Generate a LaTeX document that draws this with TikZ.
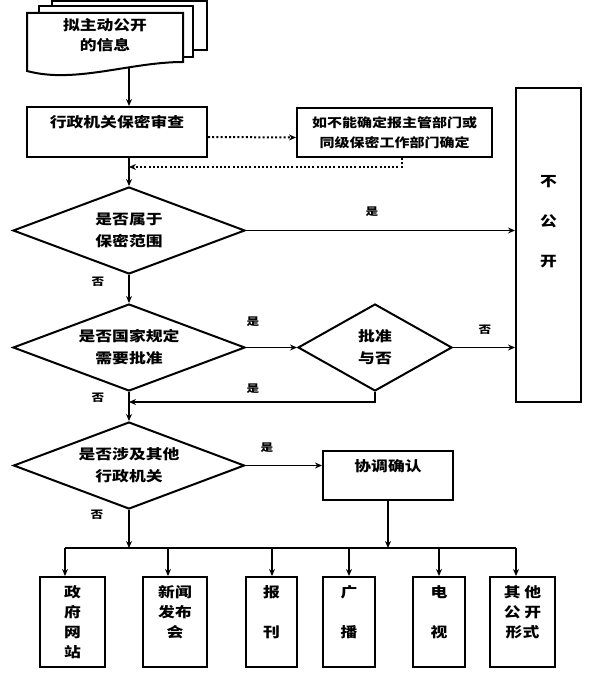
\documentclass[tikz,border=0pt]{standalone}
\usepackage{fontspec}
\newfontfamily\cjk{Noto Sans CJK SC}[FakeStretch=1.2]
\usetikzlibrary{shapes.geometric,arrows.meta}

\tikzset{
  procbox/.style={draw, line width=2pt, fill=white, inner sep=0pt, align=center,
    font=\cjk\bfseries\fontsize{14}{20}\selectfont},
  decision/.style={diamond, draw, line width=2pt, inner sep=0pt, align=center, aspect=2.67,
    font=\cjk\bfseries\fontsize{14}{22}\selectfont},
  toptext/.style={anchor=north, align=center, inner sep=0pt, yshift=-9pt,
    font=\cjk\bfseries\fontsize{14}{20}\selectfont},
  docpage/.style={draw, line width=2pt, fill=white},
  flow/.style={line width=1.5pt, -{Stealth[length=7pt,width=6pt]}},
  dotflow/.style={flow, line width=2pt, dash pattern=on 2pt off 2.2pt},
  answer/.style={font=\cjk\bfseries\fontsize{10.5}{10.5}\selectfont}
}

\begin{document}
\begin{tikzpicture}[x=1pt, y=-1pt]
  \useasboundingbox (0,0) rectangle (596,676);

  % stack of documents
  \path[docpage] (52,1.5) rectangle (207,50);
  \path[docpage] (39,6) rectangle (193,57);
  \path[docpage] (27,13) -- (183,13) -- (183,62) .. controls (130,62) and (75,84) .. (27,71) -- cycle;
  \node[align=center, font=\cjk\bfseries\fontsize{14}{20}\selectfont] (info) at (105,35) {拟主动公开\\的信息};
  \coordinate (docbot) at (129,68);

  \node[procbox, minimum width=180pt, minimum height=50pt,
    label={[toptext]north:行政机关保密审查}] (review) at (117,132) {};
  \node[procbox, minimum width=195pt, minimum height=49pt,
    font=\cjk\bfseries\fontsize{12.5}{20}\selectfont] (note) at (394.5,132.5)
    {如不能确定报主管部门或\\同级保密工作部门确定};
  \node[procbox, minimum width=65pt, minimum height=314pt,
    label={[align=center, inner sep=0pt, yshift=23pt,
      font=\cjk\bfseries\fontsize{14}{20}\selectfont]center:{不\\[20pt]公\\[20pt]开}}] (nopub) at (548.5,245) {};

  \node[decision, minimum width=232pt, minimum height=87pt] (d1) at (129,230.5) {是否属于\\保密范围};
  \node[decision, minimum width=232pt, minimum height=87pt] (d2) at (129,347.5) {是否国家规定\\需要批准};
  \node[decision, minimum width=154pt, minimum height=87pt, aspect=1.77] (d3) at (375,347.5) {批准\\与否};
  \node[decision, minimum width=231pt, minimum height=87pt] (d4) at (129,465.5) {是否涉及其他\\行政机关};

  \node[procbox, minimum width=130pt, minimum height=49pt,
    label={[toptext]north:协调确认}] (coord) at (388,475.5) {};

  % ways of making it public
  \node[procbox, minimum width=65pt, minimum height=90pt,
    label={[toptext]north:{政\\府\\网\\站}}] (site) at (72.5,622) {};
  \node[procbox, minimum width=64pt, minimum height=90pt,
    label={[toptext]north:{新闻\\发布\\会}}] (press) at (175,622) {};
  \node[procbox, minimum width=51pt, minimum height=90pt,
    label={[toptext]north:{报\\[20pt]刊}}] (paper) at (271.5,622) {};
  \node[procbox, minimum width=52pt, minimum height=90pt,
    label={[toptext]north:{广\\[20pt]播}}] (radio) at (349,622) {};
  \node[procbox, minimum width=52pt, minimum height=90pt,
    label={[toptext]north:{电\\[20pt]视}}] (tv) at (439,622) {};
  \node[procbox, minimum width=65pt, minimum height=90pt,
    label={[toptext]north:{其 他\\公 开\\形式}}] (other) at (522.5,622) {};

  % answers
  \node[answer] (yes1) at (372,212) {是};
  \node[answer] (no1) at (98,282) {否};
  \node[answer] (yes2) at (253,322) {是};
  \node[answer] (no2) at (98,398) {否};
  \node[answer] (yes3) at (253,389) {是};
  \node[answer] (no3) at (485,330) {否};
  \node[answer] (yes4) at (267,448) {是};
  \node[answer] (no4) at (97,515) {否};

  % connectors
  \draw[flow] (docbot) -- (d1.north |- review.north);
  \draw[flow] (d1.north |- review.south) -- (d1.north);
  \draw[dotflow] ([yshift=-5pt]review.east) -- ([yshift=-5pt]note.west);
  \coordinate (back) at (129,167);
  \draw[dotflow] ([xshift=7.5pt]note.south) |- (back);
  \draw[flow] (d1.east) -- (d1.east -| nopub.west);
  \draw[flow] (d1.south) -- (d2.north);
  \draw[flow] (d2.east) -- (d3.west);
  \draw[flow] (d3.east) -- (d3.east -| nopub.west);
  \coordinate (ret) at (129,402);
  \draw[flow] (d3.south) |- (ret);
  \draw[flow] (d2.south) -- (d4.north);
  \draw[flow] (d4.east) -- (d4.east -| coord.west);

  \coordinate (bus) at (0,548);
  \draw[flow] (d4.south) -- (d4.south |- bus);
  \draw[flow] (coord.south) -- (coord.south |- bus);
  \coordinate (busleft) at ([xshift=-7.5pt]site.north);
  \coordinate (busright) at ([xshift=-6.5pt]other.north);
  \draw[line width=1.5pt] (busleft |- bus) -- (busright |- bus);
  \foreach \name/\dx in {site/-7.5, press/-7, paper/0.5, radio/0, tv/0, other/-6.5} {
    \coordinate (droptop) at ([xshift=\dx pt]\name.north);
    \draw[flow] (droptop |- bus) -- (droptop);
  }
\end{tikzpicture}
\end{document}
